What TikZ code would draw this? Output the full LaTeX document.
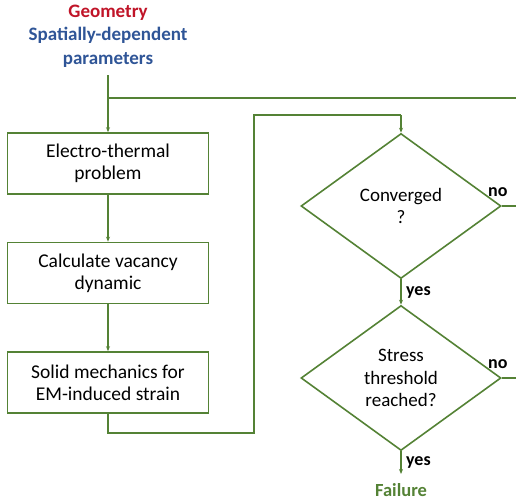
\documentclass[tikz,border=0pt]{standalone}
\usepackage{fontspec}
\setmainfont{Carlito}
\usetikzlibrary{shapes.geometric,arrows.meta}
\definecolor{flowgreen}{RGB}{84,130,53}
\definecolor{geored}{RGB}{192,20,40}
\definecolor{parblue}{RGB}{47,85,151}
\tikzset{
  stepbox/.style={draw=flowgreen,line width=1.6pt,minimum width=201pt,minimum height=61pt,align=center,inner sep=0pt,font=\fontsize{19.5}{22}\selectfont},
  decision/.style={diamond,draw=flowgreen,line width=1.6pt,minimum width=200pt,minimum height=145pt,aspect=1.38,inner sep=0pt,align=center,font=\fontsize{19}{22.5}\selectfont},
  flow/.style={draw=flowgreen,line width=1.6pt},
  flowarr/.style={flow,-{Stealth[length=5pt,width=4pt]}},
  answer/.style={font=\bfseries\fontsize{18}{20}\selectfont}
}
\begin{document}
\begin{tikzpicture}[x=1pt,y=-1pt]
\useasboundingbox (0,0) rectangle (516,503);
% inputs
\node[align=center,font=\bfseries\fontsize{19}{23.5}\selectfont,inner sep=0pt] (inp) at (108,36)
  {\textcolor{geored}{Geometry}\\\textcolor{parblue}{Spatially-dependent}\\\textcolor{parblue}{parameters}};
% solver chain
\node[stepbox] (b1) at (108,163.5) {Electro-thermal\\problem};
\node[stepbox] (b2) at (108,273) {Calculate vacancy\\dynamic};
\node[stepbox] (b3) at (108,382.5) {Solid mechanics for\\EM-induced strain};
% checks
\node[decision] (d1) at (401,206) {Converged\\?};
\node[decision] (d2) at (401,378) {Stress\\threshold\\reached?};
\node[font=\bfseries\fontsize{18.5}{20}\selectfont,text=flowgreen,inner sep=0pt] (fail) at (401,490) {Failure};
% helper points
\coordinate (top) at (108,75);
\coordinate (split) at (108,98);
\coordinate (redge) at (516,98);
\coordinate (ret1) at (516,206);
\coordinate (ret2) at (516,378);
\coordinate (lp1) at (108,433);
\coordinate (lp2) at (254,433);
\coordinate (lp3) at (254,115);
\coordinate (lp4) at (401,115);
\coordinate (fin) at (401,474);
% connectors
\draw[flowarr] (top) -- (b1);
\draw[flow] (split) -- (redge);
\draw[flowarr] (b1) -- (b2);
\draw[flowarr] (b2) -- (b3);
\draw[flow] (b3.south) -- (lp1) -- (lp2) -- (lp3) -- (lp4);
\draw[flowarr] (lp4) -- (d1.north);
\draw[flowarr] (d1.south) -- node[answer,right,xshift=1pt] {yes} (d2.north);
\draw[flowarr] (d2.south) -- node[answer,right,xshift=1pt] {yes} (fin);
\draw[flow] (d1.east) -- node[answer,above,yshift=5pt,xshift=-4pt,pos=0] {no} (ret1);
\draw[flow] (d2.east) -- node[answer,above,yshift=5pt,xshift=-4pt,pos=0] {no} (ret2);
\end{tikzpicture}
\end{document}
